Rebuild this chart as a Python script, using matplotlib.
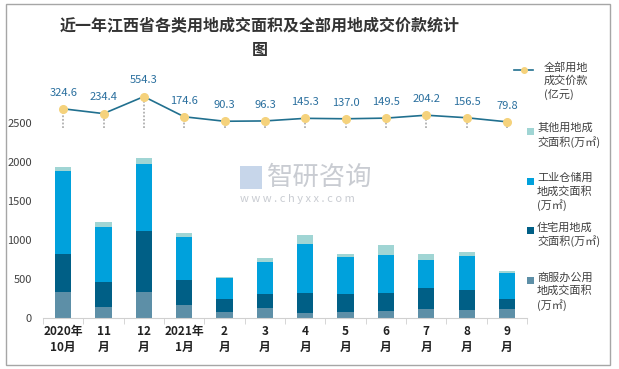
import numpy as np
import matplotlib
matplotlib.use('Agg')
import matplotlib.pyplot as plt
from matplotlib.patches import Rectangle
from matplotlib.lines import Line2D

plt.rcParams['font.family'] = ['Noto Sans CJK SC', 'DejaVu Sans']

# ------- data -------------------------------------------
months = ['2020年\n10月', '11\n月', '12\n月', '2021年\n1月', '2\n月', '3\n月',
          '4\n月', '5\n月', '6\n月', '7\n月', '8\n月', '9\n月']
commercial = [330, 138, 331, 162, 73, 124, 60, 73, 86, 111, 99, 111]
residential = [490, 321, 785, 323, 167, 180, 257, 231, 231, 271, 257, 129]
industrial = [1068, 707, 862, 551, 270, 412, 629, 474, 487, 359, 435, 332]
other = [52, 64, 77, 54, 13, 51, 116, 42, 129, 79, 52, 26]
price = [324.6, 234.4, 554.3, 174.6, 90.3, 96.3, 145.3, 137.0, 149.5, 204.2, 156.5, 79.8]

c_comm = '#5d8fa7'
c_res = '#005f86'
c_ind = '#00a1dc'
c_oth = '#a0d5d4'
c_line = '#21708f'
c_mark = '#f5d27c'
c_lab = '#2a6f9e'

fig = plt.figure(figsize=(6.19, 3.69), dpi=100)
ax = fig.add_axes([0.0695, 0.139, 0.782, 0.658])
x = np.arange(len(months))
w = 0.4

b1 = np.array(commercial)
b2 = b1 + np.array(residential)
b3 = b2 + np.array(industrial)
ax.bar(x, commercial, w, color=c_comm)
ax.bar(x, residential, w, bottom=b1, color=c_res)
ax.bar(x, industrial, w, bottom=b2, color=c_ind)
ax.bar(x, other, w, bottom=b3, color=c_oth)

ax.set_xlim(-0.5, len(months) - 0.5)
ax.set_ylim(0, 3120)
ax.set_yticks([0, 500, 1000, 1500, 2000, 2500])
ax.tick_params(axis='y', length=0, labelsize=8, labelcolor='#404040', pad=8)
ax.set_xticks(x)
ax.set_xticklabels(months, fontsize=8.5, fontweight='bold', color='#222222',
                   linespacing=1.35)
ax.tick_params(axis='x', length=0, pad=5)
# small ticks between categories
ax.set_xticks(np.arange(-0.5, len(months), 1.0), minor=True)
ax.tick_params(axis='x', which='minor', length=4, color='#d0d0d0', direction='out')
for s in ['top', 'right', 'left']:
    ax.spines[s].set_visible(False)
ax.spines['bottom'].set_color('#d0d0d0')

# line on a hidden secondary axis
ax2 = ax.twinx()
ax2.set_ylim(-3604, 962)
ax2.axis('off')
ax2.vlines(x, -40, price, colors='#b0b0b0', linestyles=(0, (1, 1)), lw=1.3)
ax2.plot(x, price, color=c_line, lw=1.2, marker='o', ms=5.5,
         mfc=c_mark, mec=c_mark, zorder=3)
for xi, v in zip(x, price):
    ax2.annotate('%.1f' % v, (xi, v), xytext=(0, 8), textcoords='offset points',
                 ha='center', va='bottom', fontsize=8, color=c_lab)

# title
fig.text(0.42, 0.898, '近一年江西省各类用地成交面积及全部用地成交价款统计\n图',
         ha='center', va='center', fontsize=11.5, fontweight='bold',
         color='#333333', linespacing=1.6)

# watermark
fig.text(0.432, 0.518, '智研咨询', fontsize=19, color='#c9ccd2', ha='left', va='center')
fig.text(0.388, 0.460, 'w w w . c h y x x . c o m', fontsize=8, color='#c9ccd2',
         ha='left', va='center')
fig.patches.append(Rectangle((0.388, 0.488), 0.035, 0.062, transform=fig.transFigure,
                             facecolor='#c7d6ea', edgecolor='none'))

# legend, drawn by hand to copy the uneven spacing
def fy(py):
    return 1 - py / 369.0

tx = 537 / 619.0
fig.lines.append(Line2D([514 / 619.0, 533 / 619.0], [fy(70), fy(70)],
                        transform=fig.transFigure, color=c_line, lw=1.2))
fig.lines.append(Line2D([523.5 / 619.0], [fy(70)], transform=fig.transFigure,
                        marker='o', ms=4, mfc=c_mark, mec=c_mark))
fig.text(544 / 619.0, fy(62), '全部用地\n成交价款\n(亿元)', fontsize=8, color='#404040',
         va='top', ha='left', linespacing=1.3)
entries = [(c_oth, 123, '其他用地成\n交面积(万㎡)'),
           (c_ind, 173, '工业仓储用\n地成交面积\n(万㎡)'),
           (c_res, 222, '住宅用地成\n交面积(万㎡)'),
           (c_comm, 272, '商服办公用\n地成交面积\n(万㎡)')]
for col, py, lab in entries:
    fig.patches.append(Rectangle((527 / 619.0, fy(py + 12)), 7 / 619.0, 7 / 369.0,
                                 transform=fig.transFigure, facecolor=col,
                                 edgecolor='none'))
    fig.text(tx, fy(py), lab, fontsize=8, color='#404040', va='top', ha='left',
             linespacing=1.3)

# outer border
fig.patches.append(Rectangle((6 / 619.0, 4 / 369.0), 604 / 619.0, 361 / 369.0,
                             transform=fig.transFigure, fill=False,
                             edgecolor='#a6a6a6', lw=1))

fig.savefig('out.png', dpi=100)
